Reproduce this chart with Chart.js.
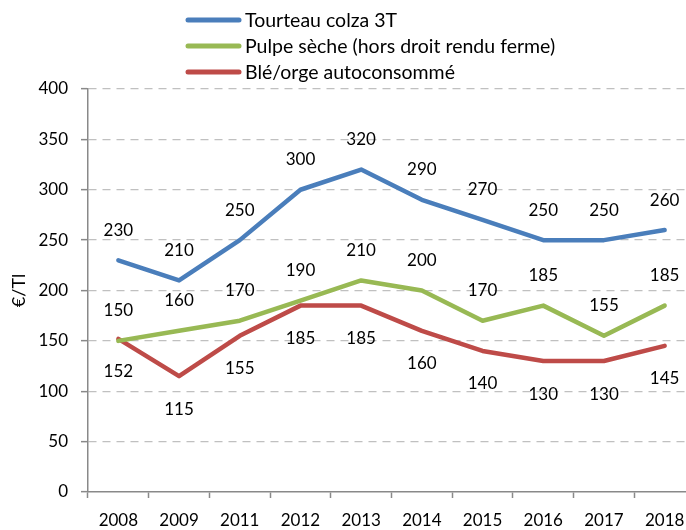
<!DOCTYPE html>
<html>
<head>
<meta charset="utf-8">
<script src="https://cdn.jsdelivr.net/npm/chart.js@4.4.0/dist/chart.umd.min.js"></script>
<style>
  html, body { margin: 0; padding: 0; background: #fff; overflow: hidden; }
  #wrap { position: relative; width: 700px; height: 530px; }
</style>
</head>
<body>
<div id="wrap"><canvas id="prixAliments"></canvas></div>
<script>
// Années (2010 absent dans la source)
const annees = ['2008', '2009', '2011', '2012', '2013', '2014', '2015', '2016', '2017', '2018'];

// Prix en €/Tl
const tourteauColza = [230, 210, 250, 300, 320, 290, 270, 250, 250, 260];
const pulpeSeche = [150, 160, 170, 190, 210, 200, 170, 185, 155, 185];
const bleOrge = [152, 115, 155, 185, 185, 160, 140, 130, 130, 145];

const FONT = { family: 'Lato', size: 17 };
const GRIS_AXE = '#898989';

// étiquettes de valeurs au-dessus / en dessous de chaque point
const etiquettes = {
    id: 'etiquettes',
    afterDatasetsDraw(chart) {
        const ctx = chart.ctx;
        ctx.save();
        ctx.font = FONT.size + 'px ' + FONT.family;
        ctx.fillStyle = '#000';
        ctx.textAlign = 'center';
        ctx.textBaseline = 'middle';
        chart.data.datasets.forEach((ds, i) => {
            chart.getDatasetMeta(i).data.forEach((pt, j) => {
                ctx.fillText(ds.data[j], pt.x, pt.y + ds.decalage);
            });
        });
        ctx.restore();
    }
};

// légende en liste verticale
const legende = {
    id: 'legende',
    afterDraw(chart) {
        const ctx = chart.ctx;
        ctx.save();
        ctx.font = '19.5px ' + FONT.family;
        ctx.textBaseline = 'middle';
        ctx.textAlign = 'left';
        chart.data.datasets.forEach((ds, i) => {
            const y = 20 + i * 26;
            ctx.strokeStyle = ds.borderColor;
            ctx.lineWidth = 5;
            ctx.lineCap = 'round';
            ctx.beginPath();
            ctx.moveTo(188, y);
            ctx.lineTo(239, y);
            ctx.stroke();
            ctx.fillStyle = '#000';
            ctx.fillText(ds.label, 245, y + 1);
        });
        ctx.restore();
    }
};

new Chart(document.getElementById('prixAliments'), {
    type: 'line',
    data: {
        labels: annees,
        datasets: [
            { label: 'Tourteau colza 3T', data: tourteauColza, borderColor: '#4a7ebb', decalage: -30 },
            { label: 'Pulpe sèche (hors droit rendu ferme)', data: pulpeSeche, borderColor: '#98b954', decalage: -30 },
            { label: 'Blé/orge autoconsommé', data: bleOrge, borderColor: '#be4b48', decalage: 33 }
        ]
    },
    options: {
        responsive: true,
        maintainAspectRatio: false,
        animation: false,
        layout: { padding: { top: 89, right: 5, left: 0, bottom: 0 } },
        elements: {
            line: { borderWidth: 4.5, tension: 0, borderJoinStyle: 'round', borderCapStyle: 'round' },
            point: { radius: 0, hoverRadius: 0 }
        },
        plugins: {
            legend: { display: false },
            tooltip: { enabled: false }
        },
        scales: {
            x: {
                offset: true,
                afterFit: (scale) => { scale.height = 38; },
                grid: {
                    offset: true,
                    drawOnChartArea: false,
                    tickLength: 6,
                    tickColor: GRIS_AXE,
                    tickWidth: 1.5
                },
                border: { color: GRIS_AXE, width: 1.5 },
                ticks: { color: '#000', font: FONT, padding: 12, maxRotation: 0, autoSkip: false }
            },
            y: {
                min: 0,
                max: 400,
                afterFit: (scale) => { scale.width = 88; },
                grid: {
                    color: (c) => c.tick && c.tick.value === 0 ? 'rgba(0,0,0,0)' : '#c0c0c0',
                    lineWidth: 1.3,
                    tickLength: 7,
                    tickColor: GRIS_AXE,
                    tickWidth: 1.5
                },
                border: { color: GRIS_AXE, width: 1.5, dash: [8, 6] },
                ticks: { stepSize: 50, color: '#000', font: FONT, padding: 13 },
                title: {
                    display: true,
                    text: '€/Tl',
                    color: '#000',
                    font: { family: 'Lato', size: 18 },
                    padding: { top: 8, bottom: 0 }
                }
            }
        }
    },
    plugins: [etiquettes, legende]
});
</script>
</body>
</html>
